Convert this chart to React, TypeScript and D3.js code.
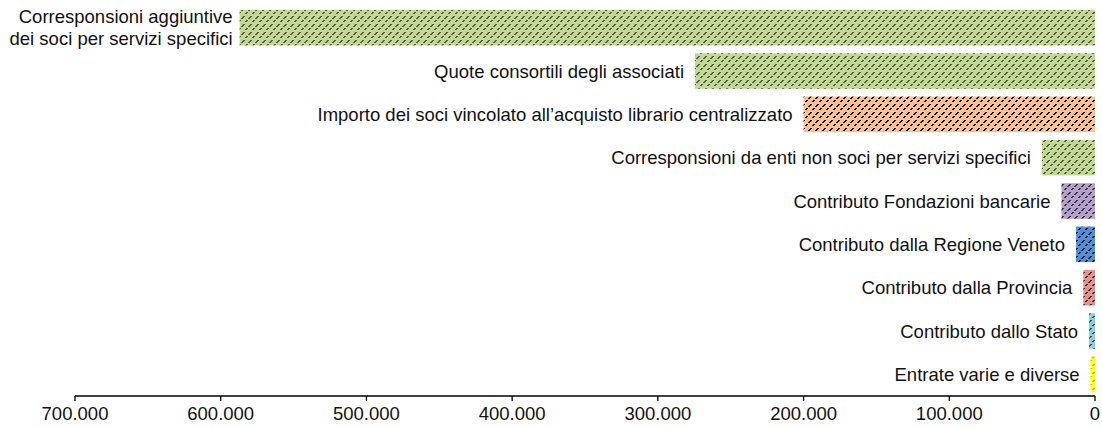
import React from 'react';
import * as d3 from 'd3';

// categories, top to bottom
const categories = [
  'Corresponsioni aggiuntive\ndei soci per servizi specifici',
  'Quote consortili degli associati',
  'Importo dei soci vincolato all\u2019acquisto librario centralizzato',
  'Corresponsioni da enti non soci per servizi specifici',
  'Contributo Fondazioni bancarie',
  'Contributo dalla Regione Veneto',
  'Contributo dalla Provincia',
  'Contributo dallo Stato',
  'Entrate varie e diverse',
];
const values = [587000, 274500, 200000, 36500, 23000, 13000, 8000, 4000, 3000];
const tickValues = [700000, 600000, 500000, 400000, 300000, 200000, 100000, 0];

const fills = [
  ['#c3d69b', '#4f6228'],
  ['#c3d69b', '#4f6228'],
  ['#fac090', '#111111'],
  ['#c3d69b', '#4f6228'],
  ['#b3a2c7', '#403152'],
  ['#558ed5', '#0f243e'],
  ['#d99694', '#632523'],
  ['#93cddd', '#215968'],
  ['#ffff00', '#f79646'],
];

const it = d3.formatLocale({ decimal: ',', thousands: '.', grouping: [3], currency: ['€', ''] });
const fmt = it.format(',');

export default function App() {
  const width = 1102;
  const height = 428;
  const font = "'Liberation Sans', Arial, sans-serif";
  const fs = 18.5;

  const x = d3.scaleLinear().domain([700000, 0]).range([75, 1095]);
  const y = d3.scaleBand<number>()
    .domain(d3.range(categories.length))
    .range([6, 396])
    .paddingInner(0.18)
    .paddingOuter(0.09);
  const baseY = 396;

  return (
    <svg width={width} height={height} style={{ position: 'absolute', left: 0, top: 0 }}>
      <defs>
        {fills.map(([bg, fg], i) => (
          <pattern key={i} id={`pat${i}`} width={7} height={8} patternUnits="userSpaceOnUse">
            <rect width={7} height={8} fill={bg} />
            <rect x={5} y={0} width={2} height={1} fill={fg} />
            <rect x={4} y={1} width={2} height={1} fill={fg} />
            <rect x={3} y={2} width={2} height={1} fill={fg} />
            <rect x={1} y={4} width={2} height={1} fill={fg} />
            <rect x={0} y={5} width={2} height={1} fill={fg} />
          </pattern>
        ))}
      </defs>
      <rect width={width} height={height} fill="#fff" />
      <g>
        {values.map((v, i) => (
          <rect key={i} x={x(v)} y={y(i)} width={x(0) - x(v)} height={y.bandwidth()} fill={`url(#pat${i})`} />
        ))}
      </g>
      <g fontFamily={font} fontSize={fs} fill="#111">
        {categories.map((c, i) => {
          const lines = c.split('\n');
          const cy = (y(i) as number) + y.bandwidth() / 2;
          const lh = 22;
          const lx = x(values[i]) - (i === 0 ? 7 : 11);
          return (
            <text key={i} x={lx} textAnchor="end">
              {lines.map((l, j) => (
                <tspan key={j} x={lx}
                  y={cy + (j - (lines.length - 1) / 2) * lh + 6.5}>{l}</tspan>
              ))}
            </text>
          );
        })}
      </g>
      <g>
        <line x1={x(700000)} x2={x(0)} y1={baseY} y2={baseY} stroke="#000" strokeWidth={1.3} />
        {tickValues.map(t => (
          <g key={t} transform={`translate(${x(t)},${baseY})`}>
            <line y1={0} y2={5} stroke="#000" strokeWidth={1.3} />
            <text y={24} textAnchor="middle" fontFamily={font} fontSize={fs} fill="#111">{fmt(t)}</text>
          </g>
        ))}
      </g>
    </svg>
  );
}
